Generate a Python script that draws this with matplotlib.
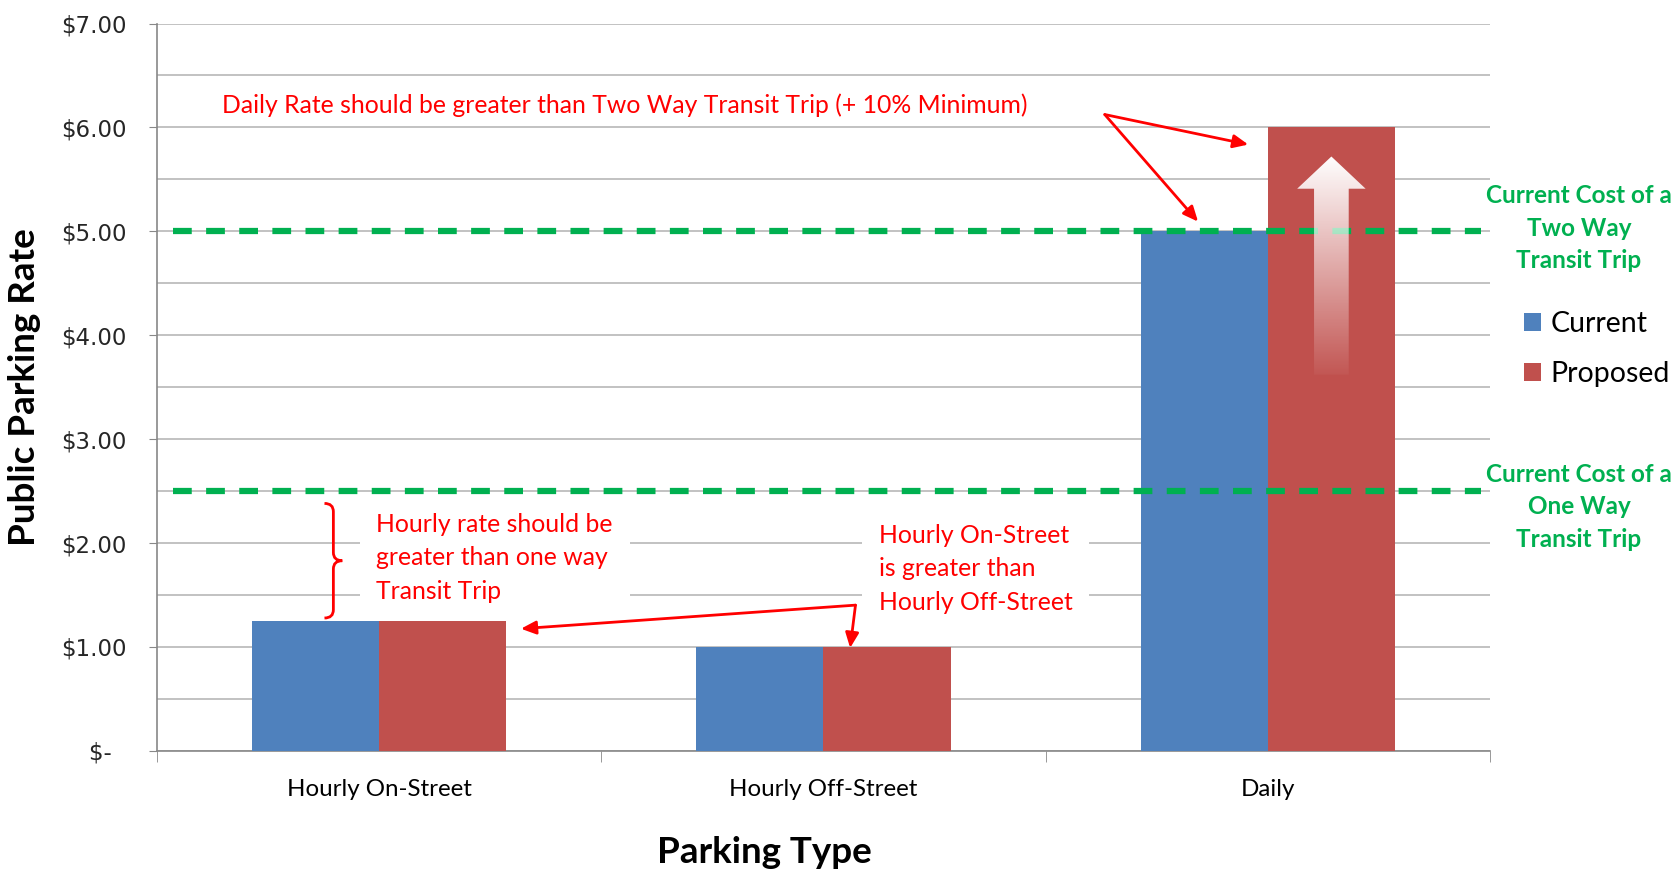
import numpy as np
import matplotlib
matplotlib.use('Agg')
import matplotlib.pyplot as plt
from matplotlib.patches import Polygon, PathPatch
from matplotlib.path import Path
from matplotlib.ticker import FuncFormatter, MultipleLocator

categories = ['Hourly On-Street', 'Hourly Off-Street', 'Daily']
current = [1.25, 1.00, 5.00]
proposed = [1.25, 1.00, 6.00]
transit_costs = [5.00, 2.50]
transit_labels = ['Current Cost of a\nTwo Way\nTransit Trip',
                  'Current Cost of a\nOne Way\nTransit Trip']
transit_label_y = [5.03, 2.35]

blue = '#4f81bd'
red = '#c0504d'
green = '#00b050'
grid_gray = '#b8b8b8'
axis_gray = '#888888'

plt.rcParams['font.family'] = ['Lato', 'DejaVu Sans']

fig, ax = plt.subplots(figsize=(16.77, 8.71), dpi=100)
fig.subplots_adjust(left=0.0936, right=0.8885, top=0.973, bottom=0.138)

x = np.arange(len(categories))
w = 0.286
ax.bar(x - w / 2, current, w, color=blue, label='Current', zorder=3)
ax.bar(x + w / 2, proposed, w, color=red, label='Proposed', zorder=3)

# transit cost reference lines
ax.hlines(transit_costs, -0.465, 2.48, colors=green, lw=4.5,
          linestyles=(0, (3, 2.3)), zorder=4)
for lab, ty in zip(transit_labels, transit_label_y):
    ax.text(2.70, ty, lab, ha='center', va='center', color=green,
            fontsize=17.5, fontweight='bold', linespacing=1.5, clip_on=False)

# faded white arrow inside the proposed daily bar
cx = x[2] + w / 2
tip, hb, bottom = proposed[2] - 0.28, proposed[2] - 0.59, 3.62
sw, hw = 0.039, 0.077
arrow_poly = Polygon([(cx - sw, bottom), (cx - sw, hb), (cx - hw, hb), (cx, tip),
                      (cx + hw, hb), (cx + sw, hb), (cx + sw, bottom)],
                     closed=True, facecolor='none', edgecolor='none')
ax.add_patch(arrow_poly)
grad = np.ones((256, 1, 4))
grad[:, 0, 3] = np.linspace(1, 0.04, 256)
im = ax.imshow(grad, extent=(cx - hw, cx + hw, bottom, tip), aspect='auto',
               origin='upper', zorder=5)
im.set_clip_path(arrow_poly)

# annotations
ax.text(-0.353, 6.216,
        'Daily Rate should be greater than Two Way Transit Trip (+ 10% Minimum)',
        color='red', fontsize=17.8, va='center', ha='left', zorder=6)
arrow_kw = dict(arrowstyle='-|>,head_length=0.9,head_width=0.4', color='red',
                lw=2, shrinkA=0, shrinkB=0)
ax.annotate('', xy=(1.956, 5.835), xytext=(1.633, 6.124), arrowprops=arrow_kw, zorder=6)
ax.annotate('', xy=(1.843, 5.093), xytext=(1.633, 6.124), arrowprops=arrow_kw, zorder=6)

ax.text(-0.006, 1.856, 'Hourly rate should be\ngreater than one way\nTransit Trip',
        color='red', fontsize=17.8, va='center', ha='left', linespacing=1.55,
        bbox=dict(facecolor='white', edgecolor='none', pad=12), zorder=5)
ax.text(1.125, 1.753, 'Hourly On-Street\nis greater than\nHourly Off-Street',
        color='red', fontsize=17.8, va='center', ha='left', linespacing=1.55,
        bbox=dict(facecolor='white', edgecolor='none', pad=12), zorder=5)
ax.annotate('', xy=(0.319, 1.175), xytext=(1.072, 1.402), arrowprops=arrow_kw, zorder=6)
ax.annotate('', xy=(1.060, 0.99), xytext=(1.072, 1.402), arrowprops=arrow_kw, zorder=6)

# curly brace
bx, btop, bbot = -0.103, 2.381, 1.278
bmid = (btop + bbot) / 2
d, h = 0.02, 0.08
verts = [(bx - d, btop), (bx, btop), (bx, btop - h),
         (bx, bmid + h), (bx, bmid), (bx + d, bmid),
         (bx, bmid), (bx, bmid - h),
         (bx, bbot + h), (bx, bbot), (bx - d, bbot)]
codes = [Path.MOVETO, Path.CURVE3, Path.CURVE3,
         Path.LINETO, Path.CURVE3, Path.CURVE3,
         Path.CURVE3, Path.CURVE3,
         Path.LINETO, Path.CURVE3, Path.CURVE3]
ax.add_patch(PathPatch(Path(verts, codes), facecolor='none', edgecolor='red', lw=2, zorder=6))

# axes styling
ax.set_xlim(-0.5, 2.5)
ax.set_ylim(0, 7)
ax.yaxis.set_major_locator(MultipleLocator(1))
ax.yaxis.set_minor_locator(MultipleLocator(0.5))
ax.yaxis.set_major_formatter(FuncFormatter(lambda v, p: '$-  ' if v == 0 else f'${v:.2f}'))
ax.grid(axis='y', which='both', color=grid_gray, lw=1.2, zorder=0)
ax.set_axisbelow(True)

ax.set_xticks(x)
ax.set_xticklabels(categories, fontsize=17.4)
ax.set_xticks([-0.5, 0.5, 1.5, 2.5], minor=True)
ax.tick_params(axis='x', which='major', length=0, pad=20)
ax.tick_params(axis='x', which='minor', length=8, color=axis_gray)
ax.tick_params(axis='y', which='major', length=6, color=axis_gray, pad=16,
               labelsize=16.5, labelcolor='#262626')
ax.tick_params(axis='y', which='minor', length=0)
for lbl in ax.get_yticklabels():
    lbl.set_family('DejaVu Sans')

for s in ['top', 'right']:
    ax.spines[s].set_visible(False)
for s in ['left', 'bottom']:
    ax.spines[s].set_color(axis_gray)
    ax.spines[s].set_linewidth(1.2)

ax.set_ylabel('Public Parking Rate', fontsize=26.5, fontweight='bold')
ax.yaxis.set_label_coords(-0.087, 0.5)
ax.set_xlabel('Parking Type', fontsize=26.5, fontweight='bold')
ax.xaxis.set_label_coords(0.456, -0.117)

ax.legend(loc='center left', bbox_to_anchor=(1.006, 0.552), frameon=False, fontsize=20.5,
          handlelength=0.6, handleheight=0.6, handletextpad=0.35, labelspacing=0.85)

fig.savefig('out.png', dpi=100)
